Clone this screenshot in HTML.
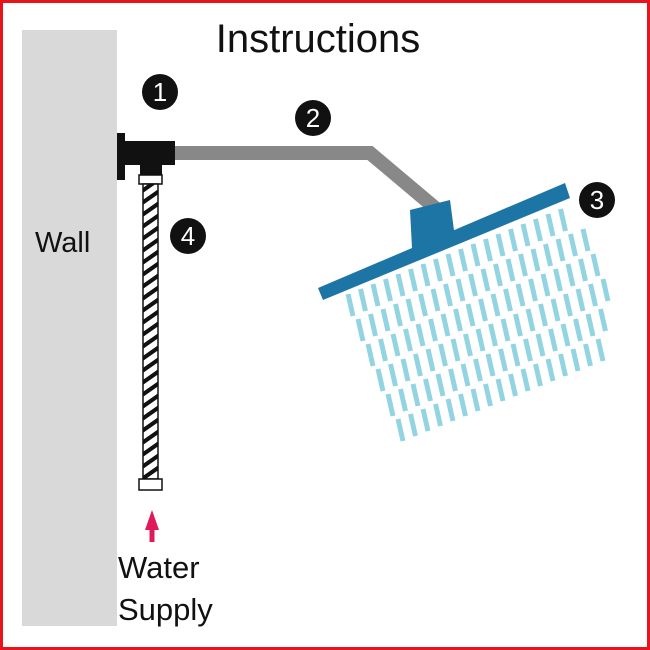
<!DOCTYPE html>
<html><head><style>body{margin:0}svg{display:block}text{font-family:"Liberation Sans",sans-serif}</style></head><body>
<svg width="650" height="650" viewBox="0 0 650 650" xmlns="http://www.w3.org/2000/svg">
<defs><pattern id="st" width="20" height="12" patternUnits="userSpaceOnUse" patternTransform="skewY(-35)"><rect width="20" height="12" fill="#fff"/><rect width="20" height="5" fill="#111"/></pattern></defs>
<rect width="650" height="650" fill="#fff"/>
<rect x="1.5" y="1.5" width="647" height="647" fill="none" stroke="#e8141c" stroke-width="3"/>
<rect x="22" y="30" width="95" height="596" fill="#d9d9d9"/>
<text x="318" y="52" font-size="40" text-anchor="middle" fill="#111">Instructions</text>
<text x="35" y="252" font-size="29" fill="#111">Wall</text>
<text x="118" y="578" font-size="31" fill="#111">Water</text>
<text x="118" y="620" font-size="31" fill="#111">Supply</text>
<polyline points="172,153 370,153 440,212" fill="none" stroke="#888" stroke-width="14" stroke-linejoin="miter"/>
<rect x="117" y="133" width="8" height="47" fill="#111"/>
<rect x="117" y="141" width="58" height="24" fill="#111"/>
<rect x="140" y="160" width="22" height="15" fill="#111"/>
<rect x="139" y="175" width="23" height="9" fill="#fff" stroke="#111" stroke-width="1.5"/>
<rect x="143" y="184" width="15" height="295" fill="url(#st)" stroke="#111" stroke-width="1.5"/>
<rect x="139" y="479" width="23" height="11" fill="#fff" stroke="#111" stroke-width="1.5"/>
<polygon points="145,530 152,510 159,530" fill="#e0195a"/><rect x="149.5" y="528" width="5" height="14" fill="#e0195a"/>
<g id="drops" stroke="#93d4e2" stroke-width="5"></g>
<polygon points="410,210 450,200 455,238 412,248" fill="#1c75a4"/>
<polygon points="318,288 565,183 570,198 323,300" fill="#1c75a4"/>
<g fill="#111"><circle cx="160" cy="92" r="18"/><circle cx="313" cy="118" r="18"/><circle cx="597" cy="200" r="18"/><circle cx="188" cy="236" r="18"/></g>
<g fill="#fff" font-size="26" text-anchor="middle"><text x="160" y="101">1</text><text x="313" y="127">2</text><text x="597" y="209">3</text><text x="188" y="245">4</text></g>
</svg>
<script>
var g=document.getElementById('drops'),s='';
for(var r=0;r<6;r++){var sx=348+r*10,sy=305+r*25;var n=[18,19,19,19,18,17][r];for(var i=0;i<n;i++){var x=sx+i*12.5,y=sy-i*12.5*0.40;s+='<line x1="'+x+'" y1="'+(y-11)+'" x2="'+(x+5)+'" y2="'+(y+11)+'"/>';}}
g.innerHTML=s;
</script>
</body></html>
